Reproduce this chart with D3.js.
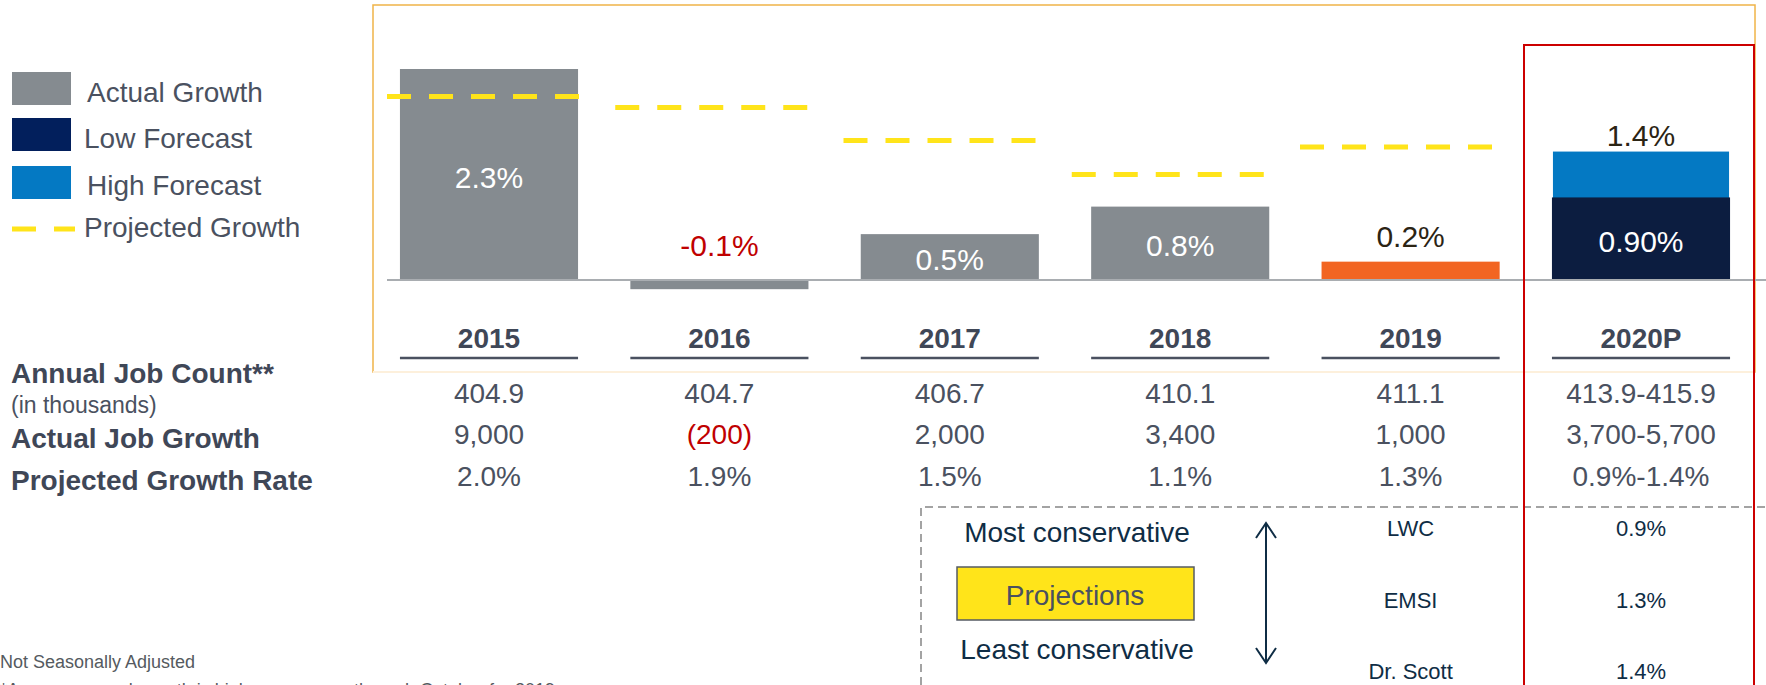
<!DOCTYPE html>
<html>
<head>
<meta charset="utf-8">
<script src="https://cdn.jsdelivr.net/npm/d3@7"></script>
<style>
  body { margin: 0; background: #fff; }
  svg text { font-family: "Liberation Sans", Arial, sans-serif; }
</style>
</head>
<body>
<svg id="canvas" width="1766" height="685"></svg>
<script>
// chart values
let years = ['2015', '2016', '2017', '2018', '2019', '2020P']
let actualGrowth = [2.3, -0.1, 0.5, 0.8, 0.2, null]
let lowForecast = [null, null, null, null, null, 0.9]
let highForecast = [null, null, null, null, null, 1.4]
let projectedLine = [2.0, 1.88, 1.52, 1.15, 1.45, null]
let actualLabels = ['2.3%', '-0.1%', '0.5%', '0.8%', '0.2%', null]
let lowLabels = [null, null, null, null, null, '0.90%']
let highLabels = [null, null, null, null, null, '1.4%']

let rowLabels = ['Annual Job Count**', 'Actual Job Growth', 'Projected Growth Rate']
let jobCount = ['404.9', '404.7', '406.7', '410.1', '411.1', '413.9-415.9']
let jobGrowth = ['9,000', '(200)', '2,000', '3,400', '1,000', '3,700-5,700']
let projectedRate = ['2.0%', '1.9%', '1.5%', '1.1%', '1.3%', '0.9%-1.4%']

let sources = ['LWC', 'EMSI', 'Dr. Scott']
let sourceRates = ['0.9%', '1.3%', '1.4%']

let legendItems = ['Actual Growth', 'Low Forecast', 'High Forecast', 'Projected Growth']

let grey = '#858b90', orange = '#f26522', navy = '#0c1d40', blue = '#0479c3'
let yellow = '#ffe41a', textCol = '#4a5160', dark = '#0f2d45', red = '#c00000'

let svg = d3.select('#canvas')

let x = d3.scaleBand().domain(years).range([373.8, 1756.2]).paddingInner(0.227).paddingOuter(0.1135)
let y = d3.scaleLinear().domain([0, 2.3]).range([280, 69])
let bw = x.bandwidth()
let mid = (d) => x(d) + bw / 2

// the dashed projection segments sit on a slightly tighter spacing than the bars
let dashYears = years.filter((d, i) => projectedLine[i] != null)
let xDash = d3.scalePoint().domain(dashYears).range([483, 1396])

// frames
svg.append('rect').attr('x', 373).attr('y', 5).attr('width', 1382).attr('height', 367)
  .attr('fill', 'none').attr('stroke', '#f0b448').attr('stroke-width', 1.5)
svg.append('line').attr('x1', 373).attr('x2', 1755).attr('y1', 372).attr('y2', 372)
  .attr('stroke', '#fdf0dc').attr('stroke-width', 2)

// dashed projections box
svg.append('path').attr('d', 'M921,685 V507 H1766')
  .attr('fill', 'none').attr('stroke', '#a3a3a3').attr('stroke-width', 2).attr('stroke-dasharray', '8,5')

// actual bars
let actual = years.map((d, i) => ({ year: d, v: actualGrowth[i], label: actualLabels[i] })).filter(d => d.v != null)
svg.selectAll('.actual').data(actual).enter().append('rect')
  .attr('class', 'actual')
  .attr('x', d => x(d.year))
  .attr('y', d => y(Math.max(0, d.v)))
  .attr('width', bw)
  .attr('height', d => Math.abs(y(d.v) - y(0)))
  .attr('fill', d => d.year == '2019' ? orange : grey)

// forecast bars
let fc = years.map((d, i) => ({ year: d, lo: lowForecast[i], hi: highForecast[i], loL: lowLabels[i], hiL: highLabels[i] })).filter(d => d.lo != null)
svg.selectAll('.high').data(fc).enter().append('rect')
  .attr('x', d => x(d.year) + 1).attr('width', bw - 2)
  .attr('y', d => y(d.hi)).attr('height', d => y(d.lo) - y(d.hi) + 1)
  .attr('fill', blue)
svg.selectAll('.low').data(fc).enter().append('rect')
  .attr('x', d => x(d.year)).attr('width', bw)
  .attr('y', d => y(d.lo)).attr('height', d => y(0) - y(d.lo))
  .attr('fill', navy)

// baseline
svg.append('line').attr('x1', 387).attr('x2', 1766).attr('y1', y(0)).attr('y2', y(0))
  .attr('stroke', '#a9adb1').attr('stroke-width', 2)

// projected growth dashes
let proj = years.map((d, i) => ({ year: d, v: projectedLine[i] })).filter(d => d.v != null)
svg.selectAll('.proj').data(proj).enter().append('line')
  .attr('x1', d => xDash(d.year) - 96).attr('x2', d => xDash(d.year) + 96)
  .attr('y1', d => y(d.v)).attr('y2', d => y(d.v))
  .attr('stroke', yellow).attr('stroke-width', 5).attr('stroke-dasharray', '24,18')

// bar labels
svg.selectAll('.blabel').data(actual).enter().append('text')
  .attr('x', d => mid(d.year))
  .attr('y', d => {
    if (d.v < 0) return y(0) - 24
    if (d.v < 0.3) return y(d.v) - 15
    return (y(d.v) + y(0)) / 2 + 13
  })
  .attr('text-anchor', 'middle').attr('font-size', 30)
  .attr('fill', d => d.v < 0 ? red : (d.v < 0.3 ? '#2b2414' : '#fff'))
  .text(d => d.label)
svg.selectAll('.lolabel').data(fc).enter().append('text')
  .attr('x', d => mid(d.year)).attr('y', d => (y(d.lo) + y(0)) / 2 + 13)
  .attr('text-anchor', 'middle').attr('font-size', 30).attr('fill', '#fff')
  .text(d => d.loL)
svg.selectAll('.hilabel').data(fc).enter().append('text')
  .attr('x', d => mid(d.year)).attr('y', d => y(d.hi) - 6)
  .attr('text-anchor', 'middle').attr('font-size', 30).attr('fill', '#2b2414')
  .text(d => d.hiL)

// year labels with underline
svg.selectAll('.year').data(years).enter().append('text')
  .attr('x', d => mid(d)).attr('y', 348)
  .attr('text-anchor', 'middle').attr('font-size', 28).attr('font-weight', 'bold').attr('fill', '#3f4757')
  .text(d => d)
svg.selectAll('.uline').data(years).enter().append('line')
  .attr('x1', d => x(d)).attr('x2', d => x(d) + bw)
  .attr('y1', 358).attr('y2', 358)
  .attr('stroke', '#4a5160').attr('stroke-width', 2.5)

// table rows
let rowY = [403, 444, 486]
let rows = [jobCount, jobGrowth, projectedRate]
rows.forEach((row, r) => {
  svg.selectAll('.row' + r).data(row).enter().append('text')
    .attr('x', (d, i) => mid(years[i])).attr('y', rowY[r])
    .attr('text-anchor', 'middle').attr('font-size', 28)
    .attr('fill', d => d.startsWith('(') ? red : textCol)
    .text(d => d)
})
let labelY = [383, 448, 490]
svg.selectAll('.rowlabel').data(rowLabels).enter().append('text')
  .attr('x', 11).attr('y', (d, i) => labelY[i])
  .attr('font-size', 28).attr('font-weight', 'bold').attr('fill', '#3f4757')
  .text(d => d)
svg.append('text').attr('x', 11).attr('y', 413).attr('font-size', 23).attr('fill', textCol).text('(in thousands)')

// red highlight on 2020P
svg.append('rect').attr('x', 1524).attr('y', 45).attr('width', 230).attr('height', 660)
  .attr('fill', 'none').attr('stroke', '#cc0000').attr('stroke-width', 2)

// projections panel
svg.append('text').attr('x', 1077).attr('y', 542).attr('text-anchor', 'middle')
  .attr('font-size', 28).attr('fill', dark).text('Most conservative')
svg.append('text').attr('x', 1077).attr('y', 659).attr('text-anchor', 'middle')
  .attr('font-size', 28).attr('fill', dark).text('Least conservative')
svg.append('rect').attr('x', 957).attr('y', 567).attr('width', 237).attr('height', 53)
  .attr('fill', yellow).attr('stroke', '#555b63').attr('stroke-width', 1.5)
svg.append('text').attr('x', 1075).attr('y', 605).attr('text-anchor', 'middle')
  .attr('font-size', 28).attr('fill', textCol).text('Projections')
svg.append('path').attr('d', 'M1266,523 V663 M1256,538 L1266,523 L1276,538 M1256,648 L1266,663 L1276,648')
  .attr('fill', 'none').attr('stroke', dark).attr('stroke-width', 2)

let sy = d3.scalePoint().domain(sources).range([536, 679])
svg.selectAll('.src').data(sources).enter().append('text')
  .attr('x', mid('2019')).attr('y', d => sy(d))
  .attr('text-anchor', 'middle').attr('font-size', 22).attr('fill', dark)
  .text(d => d)
svg.selectAll('.srcrate').data(sourceRates).enter().append('text')
  .attr('x', mid('2020P')).attr('y', (d, i) => sy(sources[i]))
  .attr('text-anchor', 'middle').attr('font-size', 22).attr('fill', dark)
  .text(d => d)

// legend
let legendSwatch = [grey, '#021f5c', blue]
let legendY = [72, 118, 166]
legendItems.forEach((name, i) => {
  if (i < 3) {
    svg.append('rect').attr('x', 12).attr('y', legendY[i]).attr('width', 59).attr('height', 33).attr('fill', legendSwatch[i])
  } else {
    svg.append('line').attr('x1', 12).attr('x2', 75).attr('y1', 229).attr('y2', 229)
      .attr('stroke', yellow).attr('stroke-width', 5).attr('stroke-dasharray', '24,18')
  }
})
let legendTextX = [87, 84, 87, 84]
let legendTextY = [102, 148, 195, 237]
svg.selectAll('.leg').data(legendItems).enter().append('text')
  .attr('x', (d, i) => legendTextX[i]).attr('y', (d, i) => legendTextY[i])
  .attr('font-size', 28).attr('fill', textCol)
  .text(d => d)

// footnotes
svg.append('text').attr('x', 0).attr('y', 668).attr('font-size', 18).attr('fill', '#555a60').text('Not Seasonally Adjusted')
svg.append('text').attr('x', 0).attr('y', 696).attr('font-size', 18).attr('fill', '#555a60')
  .text('*Average annual growth is high, on average through October for 2019')
</script>
</body>
</html>
